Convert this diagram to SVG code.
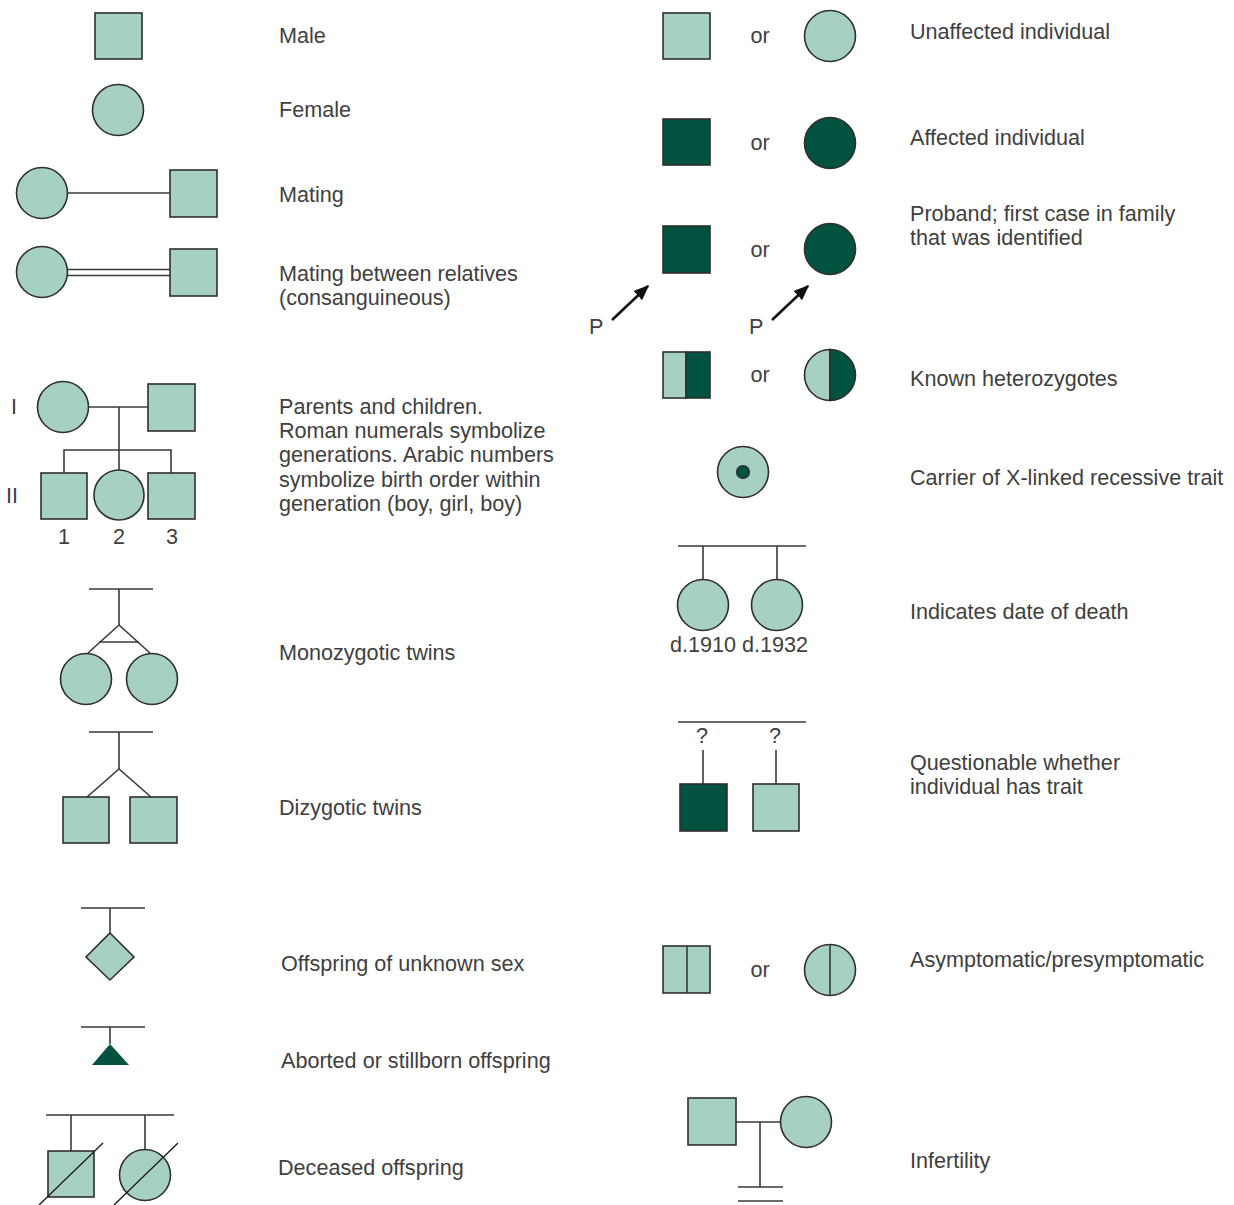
<svg xmlns="http://www.w3.org/2000/svg" width="1234" height="1205" viewBox="0 0 1234 1205">
  <style>
    .lt { fill: #a7d0c5; stroke: #2f2f2f; stroke-width: 1.6; }
    .dk { fill: #01533f; stroke: #2f2f2f; stroke-width: 1.6; }
    .ln { fill: none; stroke: #3a3a3a; stroke-width: 1.6; }
    .tx { font-family: "Liberation Sans", Arial, sans-serif; font-size: 21.6px; fill: #404040; }
    .mid { text-anchor: middle; }
  </style>
  <defs>
    <marker id="arrowhead" viewBox="0 0 10 10" refX="9" refY="5" markerWidth="6" markerHeight="6" orient="auto" markerUnits="strokeWidth">
      <path d="M0,1 L10,5 L0,9 Z" fill="#111"/>
    </marker>
  </defs>
  <rect width="1234" height="1205" fill="#ffffff"/>

  <!-- connectors -->
  <g id="connectors">
    <line class="ln" x1="68" y1="193" x2="170" y2="193"/>
    <line class="ln" x1="68" y1="269.5" x2="170" y2="269.5"/>
    <line class="ln" x1="68" y1="275.5" x2="170" y2="275.5"/>
    <!-- parents and children -->
    <line class="ln" x1="89" y1="407" x2="148" y2="407"/>
    <line class="ln" x1="119" y1="407" x2="119" y2="450"/>
    <polyline class="ln" points="64,473 64,450 171,450 171,473"/>
    <line class="ln" x1="119" y1="450" x2="119" y2="470"/>
    <!-- monozygotic -->
    <line class="ln" x1="89" y1="589" x2="153" y2="589"/>
    <polyline class="ln" points="88,653 119,625 150,653"/>
    <line class="ln" x1="119" y1="589" x2="119" y2="625"/>
    <line class="ln" x1="99" y1="642" x2="139" y2="642"/>
    <!-- dizygotic -->
    <line class="ln" x1="89" y1="732" x2="153" y2="732"/>
    <line class="ln" x1="119" y1="732" x2="119" y2="769"/>
    <polyline class="ln" points="87,797 119,769 151,797"/>
    <!-- unknown sex -->
    <line class="ln" x1="81" y1="908" x2="145" y2="908"/>
    <line class="ln" x1="110" y1="908" x2="110" y2="933"/>
    <!-- aborted -->
    <line class="ln" x1="81" y1="1027" x2="145" y2="1027"/>
    <line class="ln" x1="110" y1="1027" x2="110" y2="1044"/>
    <!-- deceased -->
    <line class="ln" x1="46" y1="1115" x2="174" y2="1115"/>
    <line class="ln" x1="71" y1="1115" x2="71" y2="1151"/>
    <line class="ln" x1="145" y1="1115" x2="145" y2="1149.5"/>
    <!-- date of death -->
    <line class="ln" x1="678" y1="546" x2="806" y2="546"/>
    <line class="ln" x1="703" y1="546" x2="703" y2="579.5"/>
    <line class="ln" x1="777" y1="546" x2="777" y2="579.5"/>
    <!-- questionable -->
    <line class="ln" x1="678" y1="722" x2="806" y2="722"/>
    <line class="ln" x1="703" y1="750" x2="703" y2="784"/>
    <line class="ln" x1="776" y1="750" x2="776" y2="784"/>
    <!-- infertility -->
    <line class="ln" x1="736" y1="1122" x2="780" y2="1122"/>
    <line class="ln" x1="760" y1="1122" x2="760" y2="1187"/>
    <line class="ln" x1="738" y1="1187" x2="783" y2="1187"/>
    <line class="ln" x1="738" y1="1201" x2="783" y2="1201"/>
    <!-- proband arrows -->
    <line x1="612" y1="320" x2="648" y2="286" stroke="#111" stroke-width="2.6" marker-end="url(#arrowhead)"/>
    <line x1="772" y1="320" x2="808" y2="286" stroke="#111" stroke-width="2.6" marker-end="url(#arrowhead)"/>
  </g>

  <!-- left column symbols -->
  <g id="male"><rect class="lt" x="95" y="13" width="47" height="46"/></g>
  <g id="female"><circle class="lt" cx="118" cy="110" r="25.5"/></g>
  <g id="mating">
    <circle class="lt" cx="42" cy="193" r="25.5"/>
    <rect class="lt" x="170" y="170" width="47" height="47"/>
  </g>
  <g id="consanguineous">
    <circle class="lt" cx="42" cy="272" r="25.5"/>
    <rect class="lt" x="170" y="249" width="47" height="47"/>
  </g>
  <g id="parents-children">
    <circle class="lt" cx="63" cy="407" r="25.5"/>
    <rect class="lt" x="148" y="384" width="47" height="47"/>
    <rect class="lt" x="41" y="473" width="46" height="46"/>
    <circle class="lt" cx="119" cy="495" r="25"/>
    <rect class="lt" x="148" y="473" width="47" height="46"/>
    <text class="tx mid" x="14" y="414">I</text>
    <text class="tx mid" x="12" y="503">II</text>
    <text class="tx mid" x="64" y="544">1</text>
    <text class="tx mid" x="119" y="544">2</text>
    <text class="tx mid" x="172" y="544">3</text>
  </g>
  <g id="monozygotic">
    <circle class="lt" cx="86" cy="679" r="25.5"/>
    <circle class="lt" cx="152" cy="679" r="25.5"/>
  </g>
  <g id="dizygotic">
    <rect class="lt" x="63" y="797" width="46" height="46"/>
    <rect class="lt" x="130" y="797" width="47" height="46"/>
  </g>
  <g id="unknown-sex"><polygon class="lt" points="110,933 134,957 110,980 86,957"/></g>
  <g id="aborted"><polygon class="dk" points="110,1044 129,1065 92,1065" style="stroke:none"/></g>
  <g id="deceased">
    <rect class="lt" x="48" y="1151" width="46" height="46"/>
    <circle class="lt" cx="145" cy="1175" r="25.5"/>
    <line x1="39" y1="1205" x2="103" y2="1143" stroke="#1e1e1e" stroke-width="1.4"/>
    <line x1="114" y1="1205" x2="178" y2="1143" stroke="#1e1e1e" stroke-width="1.4"/>
  </g>

  <!-- right column symbols -->
  <g id="unaffected">
    <rect class="lt" x="663" y="13" width="47" height="46"/>
    <circle class="lt" cx="830" cy="36" r="25.5"/>
  </g>
  <g id="affected">
    <rect class="dk" x="663" y="119" width="47" height="46"/>
    <circle class="dk" cx="830" cy="143" r="25.5"/>
  </g>
  <g id="proband">
    <rect class="dk" x="663" y="226" width="47" height="47"/>
    <circle class="dk" cx="830" cy="249" r="25.5"/>
    <text class="tx" x="589" y="334">P</text>
    <text class="tx" x="749" y="334">P</text>
  </g>
  <g id="heterozygote">
    <rect class="lt" x="663" y="352" width="23" height="46"/>
    <rect class="dk" x="686" y="352" width="24" height="46"/>
    <path class="lt" d="M830,349.5 A25.5,25.5 0 0 0 830,400.5 Z"/>
    <path class="dk" d="M830,349.5 A25.5,25.5 0 0 1 830,400.5 Z"/>
  </g>
  <g id="carrier">
    <circle class="lt" cx="743" cy="472" r="25.5"/>
    <circle class="dk" cx="743" cy="472" r="6.3"/>
  </g>
  <g id="date-of-death">
    <circle class="lt" cx="703" cy="605" r="25.5"/>
    <circle class="lt" cx="777" cy="605" r="25.5"/>
    <text class="tx mid" x="739" y="652">d.1910 d.1932</text>
  </g>
  <g id="questionable">
    <rect class="dk" x="680" y="784" width="47" height="47"/>
    <rect class="lt" x="753" y="784" width="46" height="47"/>
    <text class="tx mid" x="702" y="743">?</text>
    <text class="tx mid" x="775" y="743">?</text>
  </g>
  <g id="asymptomatic">
    <rect class="lt" x="663" y="946" width="47" height="47"/>
    <line class="ln" x1="687" y1="946" x2="687" y2="993"/>
    <circle class="lt" cx="830" cy="970" r="25.5"/>
    <line class="ln" x1="830" y1="944.5" x2="830" y2="995.5"/>
  </g>
  <g id="infertility">
    <rect class="lt" x="688" y="1098" width="48" height="47"/>
    <circle class="lt" cx="806" cy="1122" r="25.5"/>
  </g>

  <!-- "or" separators -->
  <g id="or-labels">
    <text class="tx mid" x="760" y="43">or</text>
    <text class="tx mid" x="760" y="150">or</text>
    <text class="tx mid" x="760" y="257">or</text>
    <text class="tx mid" x="760" y="382">or</text>
    <text class="tx mid" x="760" y="977">or</text>
  </g>

  <!-- descriptions -->
  <g id="left-descriptions">
    <text class="tx" x="279" y="43">Male</text>
    <text class="tx" x="279" y="117">Female</text>
    <text class="tx" x="279" y="202">Mating</text>
    <text class="tx" x="279" y="281">Mating between relatives</text>
    <text class="tx" x="279" y="305">(consanguineous)</text>
    <text class="tx" x="279" y="414">Parents and children.</text>
    <text class="tx" x="279" y="438">Roman numerals symbolize</text>
    <text class="tx" x="279" y="462">generations. Arabic numbers</text>
    <text class="tx" x="279" y="487">symbolize birth order within</text>
    <text class="tx" x="279" y="511">generation (boy, girl, boy)</text>
    <text class="tx" x="279" y="660">Monozygotic twins</text>
    <text class="tx" x="279" y="815">Dizygotic twins</text>
    <text class="tx" x="281" y="971">Offspring of unknown sex</text>
    <text class="tx" x="281" y="1068">Aborted or stillborn offspring</text>
    <text class="tx" x="278" y="1175">Deceased offspring</text>
  </g>
  <g id="right-descriptions">
    <text class="tx" x="910" y="39">Unaffected individual</text>
    <text class="tx" x="910" y="145">Affected individual</text>
    <text class="tx" x="910" y="221">Proband; first case in family</text>
    <text class="tx" x="910" y="245">that was identified</text>
    <text class="tx" x="910" y="386">Known heterozygotes</text>
    <text class="tx" x="910" y="485">Carrier of X-linked recessive trait</text>
    <text class="tx" x="910" y="619">Indicates date of death</text>
    <text class="tx" x="910" y="770">Questionable whether</text>
    <text class="tx" x="910" y="794">individual has trait</text>
    <text class="tx" x="910" y="967">Asymptomatic/presymptomatic</text>
    <text class="tx" x="910" y="1168">Infertility</text>
  </g>
</svg>
